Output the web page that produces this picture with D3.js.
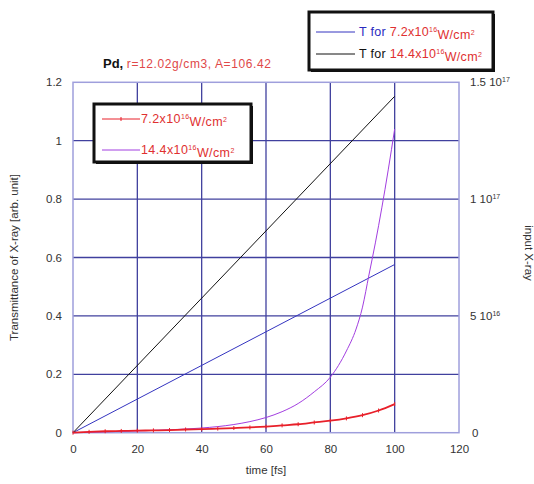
<!DOCTYPE html>
<html lang="en">
<head>
<meta charset="UTF-8">
<title>Pd transmittance</title>
<script src="https://d3js.org/d3.v7.min.js"></script>
<style>
  body { margin: 0; background: #fff; }
  text { font-family: "Liberation Sans", Arial, sans-serif; }
</style>
</head>
<body>
<svg id="chart" width="534" height="484"></svg>
<script>
// time axis [fs]
const times = [0, 5, 10, 15, 20, 25, 30, 35, 40, 45, 50, 55, 60, 65, 70, 75, 80, 85, 90, 95, 100];
// transmittance, 7.2x10^16 W/cm2 (red, with markers)
const trans72 = [0, 0.003, 0.005, 0.006, 0.007, 0.008, 0.009, 0.011, 0.012, 0.014, 0.016,
                 0.018, 0.021, 0.025, 0.029, 0.035, 0.041, 0.049, 0.06, 0.076, 0.098];
// transmittance, 14.4x10^16 W/cm2 (purple)
const timesFine = [0, 10, 20, 30, 40, 50, 55, 60, 65, 70, 75, 80, 85, 88, 90, 92, 94, 96, 98, 100];
const trans144 = [0, 0.003, 0.006, 0.01, 0.016, 0.028, 0.038, 0.052, 0.072, 0.1, 0.14, 0.19,
                  0.28, 0.355, 0.43, 0.54, 0.65, 0.77, 0.9, 1.04];
// input X-ray (right axis), linear ramps
const inputTimes = [0, 100];
const input72 = [0, 7.2e16];
const input144 = [0, 1.44e17];

const xTicks = [0, 20, 40, 60, 80, 100, 120];
const yTicks = [0, 0.2, 0.4, 0.6, 0.8, 1, 1.2];
const rightTicks = [[0, null, null], [5e16, "5 10", "16"], [1e17, "1 10", "17"], [1.5e17, "1.5 10", "17"]];

const svg = d3.select("#chart");

const x = d3.scaleLinear().domain([0, 120]).range([73, 459]);
const y = d3.scaleLinear().domain([0, 1.2]).range([432.7, 82.3]);
const yR = d3.scaleLinear().domain([0, 1.5e17]).range([432.7, 82.3]);

// grid
svg.append("g").selectAll("line").data(xTicks.slice(1, -1)).join("line")
    .attr("x1", d => x(d)).attr("x2", d => x(d))
    .attr("y1", y(0)).attr("y2", y(1.2))
    .attr("stroke", "#40409e").attr("stroke-width", 1.3);
svg.append("g").selectAll("line").data(yTicks.slice(1, -1)).join("line")
    .attr("x1", x(0)).attr("x2", x(120))
    .attr("y1", d => y(d)).attr("y2", d => y(d))
    .attr("stroke", "#40409e").attr("stroke-width", 1.3);

// plot frame
svg.append("rect")
    .attr("x", x(0)).attr("y", y(1.2))
    .attr("width", x(120) - x(0)).attr("height", y(0) - y(1.2))
    .attr("fill", "none").attr("stroke", "#9f9fdc").attr("stroke-width", 1.5);

// axes (labels only, no tick marks)
const xAxis = d3.axisBottom(x).tickValues(xTicks).tickSize(0).tickPadding(12).tickFormat(d3.format("d"));
svg.append("g").attr("transform", `translate(0,${y(0)})`).call(xAxis)
    .call(g => g.select(".domain").remove())
    .selectAll("text").attr("font-size", 11.5).attr("fill", "#333");

const yAxis = d3.axisLeft(y).tickValues(yTicks).tickSize(0).tickPadding(11).tickFormat(d => d3.format("")(+d.toFixed(1)));
svg.append("g").attr("transform", `translate(${x(0)},0)`).call(yAxis)
    .call(g => g.select(".domain").remove())
    .selectAll("text").attr("font-size", 11.5).attr("fill", "#333");

// right axis with "a 10^b" labels
const rt = svg.append("g");
rightTicks.forEach(([v, base, exp]) => {
    const t = rt.append("text")
        .attr("x", x(120) + 11).attr("y", yR(v)).attr("dy", "0.35em")
        .attr("font-size", 11.5).attr("fill", "#333");
    if (base === null) { t.attr("x", x(120) + 13).text("0"); return; }
    t.append("tspan").text(base);
    t.append("tspan").attr("dy", "-0.55em").attr("font-size", 7).text(exp);
});

// axis titles
svg.append("text").attr("x", x(60)).attr("y", 474).attr("text-anchor", "middle")
    .attr("font-size", 11.5).attr("fill", "#333").text("time [fs]");
svg.append("text").attr("transform", `translate(18,${(y(0) + y(1.2)) / 2}) rotate(-90)`)
    .attr("text-anchor", "middle").attr("font-size", 11.5).attr("fill", "#333")
    .text("Transmittance of X-ray [arb. unit]");
svg.append("text").attr("transform", `translate(525,253) rotate(90)`)
    .attr("text-anchor", "middle").attr("font-size", 11.5).attr("fill", "#333")
    .text("input X-ray");

// lines
const lineL = d3.line().x(d => x(d[0])).y(d => y(d[1]));
const lineR = d3.line().x(d => x(d[0])).y(d => yR(d[1]));

svg.append("path").datum(d3.zip(inputTimes, input72)).attr("d", lineR)
    .attr("fill", "none").attr("stroke", "#3434c0").attr("stroke-width", 1);
svg.append("path").datum(d3.zip(inputTimes, input144)).attr("d", lineR)
    .attr("fill", "none").attr("stroke", "#111").attr("stroke-width", 1);
svg.append("path").datum(d3.zip(timesFine, trans144)).attr("d", lineL.curve(d3.curveMonotoneX))
    .attr("fill", "none").attr("stroke", "#a23ee0").attr("stroke-width", 1);

const red = d3.zip(times, trans72);
svg.append("path").datum(red).attr("d", d3.line().x(d => x(d[0])).y(d => y(d[1])).curve(d3.curveMonotoneX))
    .attr("fill", "none").attr("stroke", "#e8202a").attr("stroke-width", 1.8);
svg.append("g").selectAll("path").data(red).join("path")
    .attr("d", d => `M${x(d[0])},${y(d[1]) - 2}v4`)
    .attr("stroke", "#e8202a").attr("stroke-width", 1);

// helper for "a x10^16 W/cm^2" labels
function intensity(t, a) {
    t.append("tspan").attr("fill", "#e03030").text(a + "x10");
    t.append("tspan").attr("fill", "#e03030").attr("font-size", 7).attr("dy", "-0.6em").text("16");
    t.append("tspan").attr("fill", "#e03030").attr("dy", "0.6em").text("W/cm");
    t.append("tspan").attr("fill", "#e03030").attr("font-size", 7).attr("dy", "-0.6em").text("2");
}

// title
const title = svg.append("text").attr("x", 103).attr("y", 68).attr("font-size", 13);
title.append("tspan").attr("font-weight", "bold").attr("fill", "#111").text("Pd, ");
title.append("tspan").attr("font-size", 12).attr("letter-spacing", 0.6).attr("fill", "#e04848")
    .text("r=12.02g/cm3, A=106.42");

// legend boxes
function box(x0, y0, w, h) {
    svg.append("rect").attr("x", x0 + 2).attr("y", y0 + 2).attr("width", w).attr("height", h)
        .attr("fill", "#111");
    svg.append("rect").attr("x", x0).attr("y", y0).attr("width", w).attr("height", h)
        .attr("fill", "#fff").attr("stroke", "#111").attr("stroke-width", 3);
}

box(94, 104, 157, 58);
svg.append("line").attr("x1", 102).attr("x2", 140).attr("y1", 119).attr("y2", 119)
    .attr("stroke", "#e8202a").attr("stroke-width", 1);
svg.append("path").attr("d", "M121,117v4").attr("stroke", "#e8202a");
intensity(svg.append("text").attr("x", 141).attr("y", 123).attr("font-size", 12.5).attr("letter-spacing", 0.4), "7.2");
svg.append("line").attr("x1", 102).attr("x2", 140).attr("y1", 150).attr("y2", 150)
    .attr("stroke", "#a23ee0").attr("stroke-width", 1);
intensity(svg.append("text").attr("x", 141).attr("y", 154).attr("font-size", 12.5).attr("letter-spacing", 0.4), "14.4");

box(309, 12, 184, 58);
svg.append("line").attr("x1", 316).attr("x2", 355).attr("y1", 32).attr("y2", 32)
    .attr("stroke", "#3434c0").attr("stroke-width", 1);
const l1 = svg.append("text").attr("x", 359).attr("y", 36).attr("font-size", 12.5).attr("letter-spacing", 0.3);
l1.append("tspan").attr("fill", "#2a2ac0").text("T for ");
intensity(l1, "7.2");
svg.append("line").attr("x1", 316).attr("x2", 355).attr("y1", 54).attr("y2", 54)
    .attr("stroke", "#111").attr("stroke-width", 1);
const l2 = svg.append("text").attr("x", 359).attr("y", 58).attr("font-size", 12.5).attr("letter-spacing", 0.3);
l2.append("tspan").attr("fill", "#111").text("T for ");
intensity(l2, "14.4");
</script>
</body>
</html>
